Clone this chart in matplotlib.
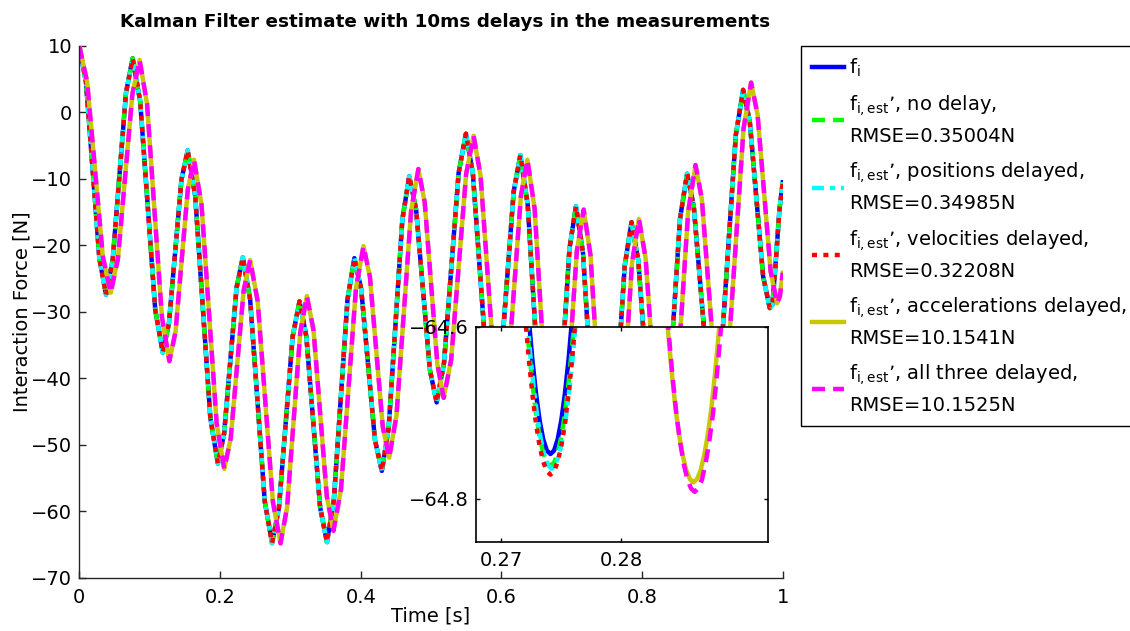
import matplotlib
matplotlib.use("Agg")
import matplotlib.pyplot as plt

plt.rcParams['font.family'] = ['DejaVu Sans']
plt.rcParams['mathtext.fontset'] = 'dejavusans'
plt.rcParams['lines.scale_dashes'] = False
plt.rcParams['axes.unicode_minus'] = True

# measured force, and the estimates that coincide with it (no delay / positions / velocities)
t_fi = [0.0, 0.0095, 0.019, 0.0285, 0.038, 0.04745, 0.0569, 0.06635, 0.0758,
        0.0865, 0.0972, 0.1079, 0.1186, 0.12745, 0.1363, 0.14515, 0.154,
        0.16475, 0.1755, 0.18625, 0.197, 0.20585, 0.2147, 0.22355, 0.2324,
        0.2428, 0.2532, 0.2636, 0.274, 0.28375, 0.2935, 0.30325, 0.313,
        0.32275, 0.3325, 0.34225, 0.352, 0.36175, 0.3715, 0.38125, 0.391,
        0.40075, 0.4105, 0.42025, 0.43, 0.43975, 0.4495, 0.45925, 0.469,
        0.47875, 0.4885, 0.49825, 0.508, 0.5184, 0.5288, 0.5392, 0.5496,
        0.55945, 0.5693, 0.57915, 0.589, 0.5985, 0.608, 0.6175, 0.627,
        0.6375, 0.648, 0.6585, 0.669, 0.67825, 0.6875, 0.69675, 0.706,
        0.716, 0.726, 0.736, 0.746, 0.75575, 0.7655, 0.77525, 0.785,
        0.79465, 0.8043, 0.81395, 0.8236, 0.8337, 0.8438, 0.8539, 0.864,
        0.8735, 0.883, 0.8925, 0.902, 0.91243, 0.92285, 0.93328, 0.9437,
        0.95315, 0.9626, 0.97205, 0.9815, 0.9853, 0.9903, 0.9953, 1.0]
f_i = [10.0, 4.54, -8.7, -21.94, -27.4, -22.21, -9.62, 2.96, 8.15,
       1.69, -13.98, -29.64, -36.1, -31.66, -20.9, -10.14, -5.7,
       -12.58, -29.25, -45.92, -52.8, -48.27, -37.3, -26.33, -21.8,
       -28.07, -43.28, -58.48, -64.75, -59.44, -46.57, -33.71, -28.4,
       -33.69, -46.5, -59.31, -64.6, -58.37, -43.25, -28.13, -21.9,
       -26.57, -37.9, -49.23, -53.9, -47.43, -31.75, -16.07, -9.6,
       -14.56, -26.6, -38.64, -43.6, -37.7, -23.4, -9.1, -3.2,
       -9.16, -23.6, -38.04, -44.0, -38.51, -25.2, -11.89, -6.4,
       -13.93, -32.2, -50.47, -58.0, -51.59, -36.05, -20.51, -14.1,
       -21.09, -38.05, -55.01, -62.0, -55.36, -39.25, -23.14, -16.5,
       -22.27, -36.25, -50.23, -56.0, -49.17, -32.6, -16.03, -9.2,
       -14.13, -26.1, -38.07, -43.0, -36.23, -19.8, -3.37, 3.4,
       -1.39, -13.0, -24.61, -29.4, -28.9, -22.1, -14.6, -10.5]

# estimates with delayed accelerations (and all three delayed)
t_del = [0.0, 0.01115, 0.0223, 0.03345, 0.0446, 0.05488, 0.06515, 0.07543, 0.0857,
         0.09628, 0.10685, 0.11743, 0.128, 0.13675, 0.1455, 0.15425, 0.163,
         0.17375, 0.1845, 0.19525, 0.206, 0.2152, 0.2244, 0.2336, 0.2428,
         0.2536, 0.2644, 0.2752, 0.286, 0.29538, 0.30475, 0.31413, 0.3235,
         0.33295, 0.3424, 0.35185, 0.3613, 0.37198, 0.38265, 0.39333, 0.404,
         0.41313, 0.42225, 0.43138, 0.4405, 0.45088, 0.46125, 0.47163, 0.482,
         0.491, 0.5, 0.509, 0.518, 0.52863, 0.53925, 0.54988, 0.5605,
         0.57038, 0.58025, 0.59013, 0.6, 0.60925, 0.6185, 0.62775, 0.637,
         0.64725, 0.6575, 0.66775, 0.678, 0.68775, 0.6975, 0.70725, 0.717,
         0.72675, 0.7365, 0.74625, 0.756, 0.76588, 0.77575, 0.78563, 0.7955,
         0.80505, 0.8146, 0.82415, 0.8337, 0.84428, 0.85485, 0.86543, 0.876,
         0.885, 0.894, 0.903, 0.912, 0.92275, 0.9335, 0.94425, 0.955,
         0.96425, 0.9735, 0.98275, 0.992, 0.996, 1.0]
f_del = [10.0, 4.58, -8.55, -21.68, -27.1, -21.99, -9.6, 2.79, 7.9,
         1.29, -14.75, -30.79, -37.4, -32.98, -22.25, -11.52, -7.1,
         -13.89, -30.35, -46.81, -53.6, -49.02, -37.9, -26.78, -22.2,
         -28.42, -43.5, -58.57, -64.79, -59.36, -46.19, -33.03, -27.6,
         -32.75, -45.25, -57.75, -62.9, -56.65, -41.5, -26.35, -20.1,
         -24.74, -36.0, -47.26, -51.9, -45.56, -30.2, -14.84, -8.5,
         -13.52, -25.7, -37.88, -42.9, -37.15, -23.2, -9.25, -3.5,
         -9.49, -24.0, -38.51, -44.5, -39.04, -25.8, -12.56, -7.1,
         -14.46, -32.3, -50.14, -57.5, -51.24, -36.05, -20.86, -14.6,
         -21.52, -38.3, -55.08, -62.0, -55.28, -39.0, -22.72, -16.0,
         -21.91, -36.25, -50.59, -56.5, -49.4, -32.2, -15.0, -7.9,
         -13.02, -25.45, -37.88, -43.0, -36.06, -19.25, -2.43, 4.5,
         -0.35, -12.1, -23.85, -28.7, -27.6, -24.1]

# zoomed detail around t = 0.27 .. 0.29
zt_a = [0.2717, 0.2720, 0.2723, 0.2726, 0.2729, 0.2732, 0.2735, 0.2738, 0.2741,
        0.2744, 0.2747, 0.2750, 0.2753, 0.2756, 0.2759, 0.2762, 0.2765]
zt_b = [0.2718, 0.2721, 0.2724, 0.2727, 0.2730, 0.2733, 0.2736, 0.2739, 0.2742,
        0.2745, 0.2748, 0.2751, 0.2754, 0.2757, 0.2760, 0.2763, 0.2766]
zt_c = [0.2836, 0.2839, 0.2842, 0.2845, 0.2848, 0.2851, 0.2854, 0.2857, 0.2860,
        0.2863, 0.2866, 0.2869, 0.2872, 0.2875, 0.2878, 0.2881, 0.2884]
zt_d = [0.2837, 0.2840, 0.2843, 0.2846, 0.2849, 0.2852, 0.2855, 0.2858, 0.2861,
        0.2864, 0.2867, 0.2870, 0.2873, 0.2876, 0.2879, 0.2882, 0.2885]
z_fi = [-64.470, -64.535, -64.591, -64.639, -64.678, -64.709, -64.731, -64.744, -64.748,
        -64.744, -64.731, -64.709, -64.678, -64.639, -64.591, -64.535, -64.470]
z_nodelay = [-64.517, -64.574, -64.624, -64.666, -64.701, -64.728, -64.747, -64.758, -64.762,
             -64.758, -64.747, -64.728, -64.701, -64.666, -64.624, -64.574, -64.517]
z_pos = [-64.523, -64.579, -64.629, -64.670, -64.704, -64.731, -64.750, -64.761, -64.765,
         -64.761, -64.750, -64.731, -64.704, -64.670, -64.629, -64.579, -64.523]
z_vel = [-64.534, -64.590, -64.638, -64.679, -64.713, -64.739, -64.757, -64.768, -64.772,
         -64.768, -64.757, -64.739, -64.713, -64.679, -64.638, -64.590, -64.534]
z_acc = [-64.556, -64.608, -64.654, -64.694, -64.725, -64.749, -64.767, -64.777, -64.781,
         -64.777, -64.767, -64.749, -64.725, -64.694, -64.654, -64.608, -64.556]
z_all = [-64.564, -64.617, -64.664, -64.704, -64.735, -64.760, -64.778, -64.788, -64.792,
         -64.788, -64.778, -64.760, -64.735, -64.704, -64.664, -64.617, -64.564]

labels = [r'$\mathregular{f_i}$',
          '$\\mathregular{f_{i,est}}$\u2019, no delay,\nRMSE=0.35004N',
          '$\\mathregular{f_{i,est}}$\u2019, positions delayed,\nRMSE=0.34985N',
          '$\\mathregular{f_{i,est}}$\u2019, velocities delayed,\nRMSE=0.32208N',
          '$\\mathregular{f_{i,est}}$\u2019, accelerations delayed,\nRMSE=10.1541N',
          '$\\mathregular{f_{i,est}}$\u2019, all three delayed,\nRMSE=10.1525N']

colors = ['#0000ff', '#00ff00', '#00ffff', '#ff0000', '#c8c800', '#ff00ff']
styles = ['-', (0, (9.4, 5.8)), (0, (8.6, 4.3, 3.6, 4.3)), (0, (3.6, 4.6)), '-', (0, (9.4, 5.8))]

fs = 14
fig = plt.figure(figsize=(11.3, 6.31), dpi=100)
ax = fig.add_axes([0.0702, 0.0840, 0.6225, 0.8431])

series = [(t_fi, f_i), (t_fi, f_i), (t_fi, f_i), (t_fi, f_i), (t_del, f_del), (t_del, f_del)]
handles = []
for (tt, ff), c, ls, lab in zip(series, colors, styles, labels):
    h, = ax.plot(tt, ff, color=c, linestyle=ls, lw=3.2, label=lab,
                 dash_capstyle='butt', solid_joinstyle='round', dash_joinstyle='round')
    handles.append(h)

ax.set_xlim(0, 1)
ax.set_ylim(-70, 10)
ax.set_xticks([0, 0.2, 0.4, 0.6, 0.8, 1])
ax.set_xticklabels(['0', '0.2', '0.4', '0.6', '0.8', '1'])
ax.set_yticks(range(-70, 11, 10))
ax.spines['top'].set_visible(False)
ax.spines['right'].set_visible(False)
for s in ['left', 'bottom']:
    ax.spines[s].set_color('#262626')
    ax.spines[s].set_linewidth(1)
ax.tick_params(direction='in', length=5, width=1, labelsize=fs, color='#262626')
ax.tick_params(axis='x', pad=7)
ax.tick_params(axis='y', pad=5)
ax.set_xlabel('Time [s]', fontsize=fs, labelpad=0)
ax.set_ylabel('Interaction Force [N]', fontsize=fs, labelpad=0)
ax.set_title('Kalman Filter estimate with 10ms delays in the measurements',
             fontsize=13.2, fontweight='bold', pad=14, x=0.52)

# inset
axi = fig.add_axes([0.4212, 0.1415, 0.2584, 0.3407])
zoom_series = [(zt_a, z_fi), (zt_a, z_nodelay), (zt_b, z_pos), (zt_a, z_vel),
               (zt_c, z_acc), (zt_d, z_all)]
for (tt, ff), c, ls in zip(zoom_series, colors, styles):
    axi.plot(tt, ff, color=c, linestyle=ls, lw=3.2, dash_capstyle='butt',
             solid_joinstyle='round', dash_joinstyle='round')
axi.set_xlim(0.2679, 0.2922)
axi.set_ylim(-64.85, -64.6)
axi.set_xticks([0.27, 0.28])
axi.set_xticklabels(['0.27', '0.28'])
axi.set_yticks([-64.8, -64.6])
axi.set_yticklabels(['\u221264.8', '\u221264.6'])
axi.tick_params(direction='in', length=3, width=1, labelsize=fs, top=True, right=True)
axi.tick_params(axis='x', pad=7)
axi.tick_params(axis='y', pad=5)
for s in axi.spines.values():
    s.set_linewidth(1.2)

leg = fig.legend(handles=handles, labels=labels, loc='upper left',
                 bbox_to_anchor=(801 / 1130, 1 - 45.7 / 631), borderaxespad=0,
                 fontsize=fs, handlelength=1.65, handletextpad=0.25, borderpad=0.55,
                 labelspacing=0.74, fancybox=False, framealpha=1, edgecolor='k')
leg.get_frame().set_linewidth(1)
for txt in leg.get_texts():
    txt.set_linespacing(1.6)

fig.savefig('out.png', dpi=100)
